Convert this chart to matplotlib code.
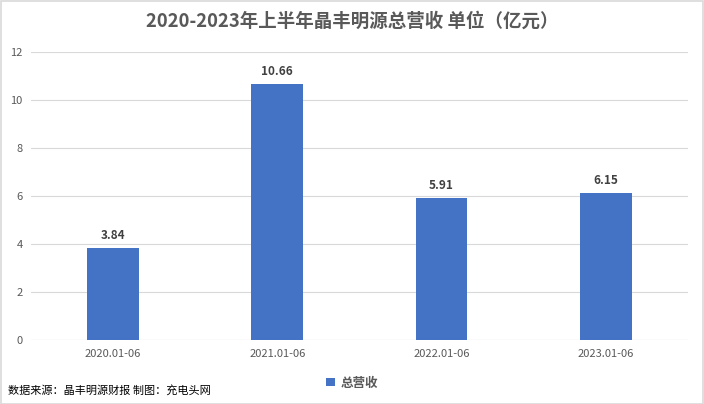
import matplotlib
matplotlib.use("Agg")
import matplotlib.pyplot as plt
from matplotlib.patches import Rectangle

plt.rcParams['font.family'] = ['Noto Sans CJK SC', 'DejaVu Sans']

periods = ["2020.01-06", "2021.01-06", "2022.01-06", "2023.01-06"]
revenue = [3.84, 10.66, 5.91, 6.15]
yticks = [0, 2, 4, 6, 8, 10, 12]

bar_color = "#4472C4"
text_color = "#595959"

fig = plt.figure(figsize=(7.04, 4.04), dpi=100)
ax = fig.add_axes([0.044, 0.158, 0.933, 0.713])

x = range(len(periods))
bars = ax.bar(x, revenue, width=0.316, color=bar_color, label="总营收", zorder=3)
for xi, v in zip(x, revenue):
    ax.text(xi, v + 0.25, f"{v:.2f}", ha="center", va="bottom",
            fontsize=8.5, fontweight="bold", color="#404040")

ax.set_xlim(-0.5, len(periods) - 0.5)
ax.set_ylim(0, 12)
ax.set_yticks(yticks)
ax.set_xticks(list(x))
ax.set_xticklabels(periods)
ax.tick_params(axis="both", length=0, labelsize=8, colors=text_color, pad=6)
ax.yaxis.grid(True, color="#D9D9D9", linewidth=0.8, zorder=0)
for s in ax.spines.values():
    s.set_visible(False)
ax.axhline(0, color="#D9D9D9", linewidth=0.8, zorder=1)

fig.text(0.5, 0.948, "2020-2023年上半年晶丰明源总营收 单位（亿元）", ha="center", va="center",
         fontsize=13.3, fontweight="bold", color=text_color)

fig.legend(loc="center", bbox_to_anchor=(0.5, 0.052), frameon=False,
           prop={"size": 9, "weight": "bold"},
           handlelength=0.7, handleheight=0.7, handletextpad=0.4, labelcolor=text_color)

fig.text(0.012, 0.035, "数据来源：晶丰明源财报 制图：充电头网", ha="left", va="center",
         fontsize=8, color="#000000")

fig.patches.append(Rectangle((0.001, 0.001), 0.997, 0.997, transform=fig.transFigure,
                             fill=False, edgecolor="#D9D9D9", linewidth=1.2))

fig.savefig("out.png", dpi=100)
